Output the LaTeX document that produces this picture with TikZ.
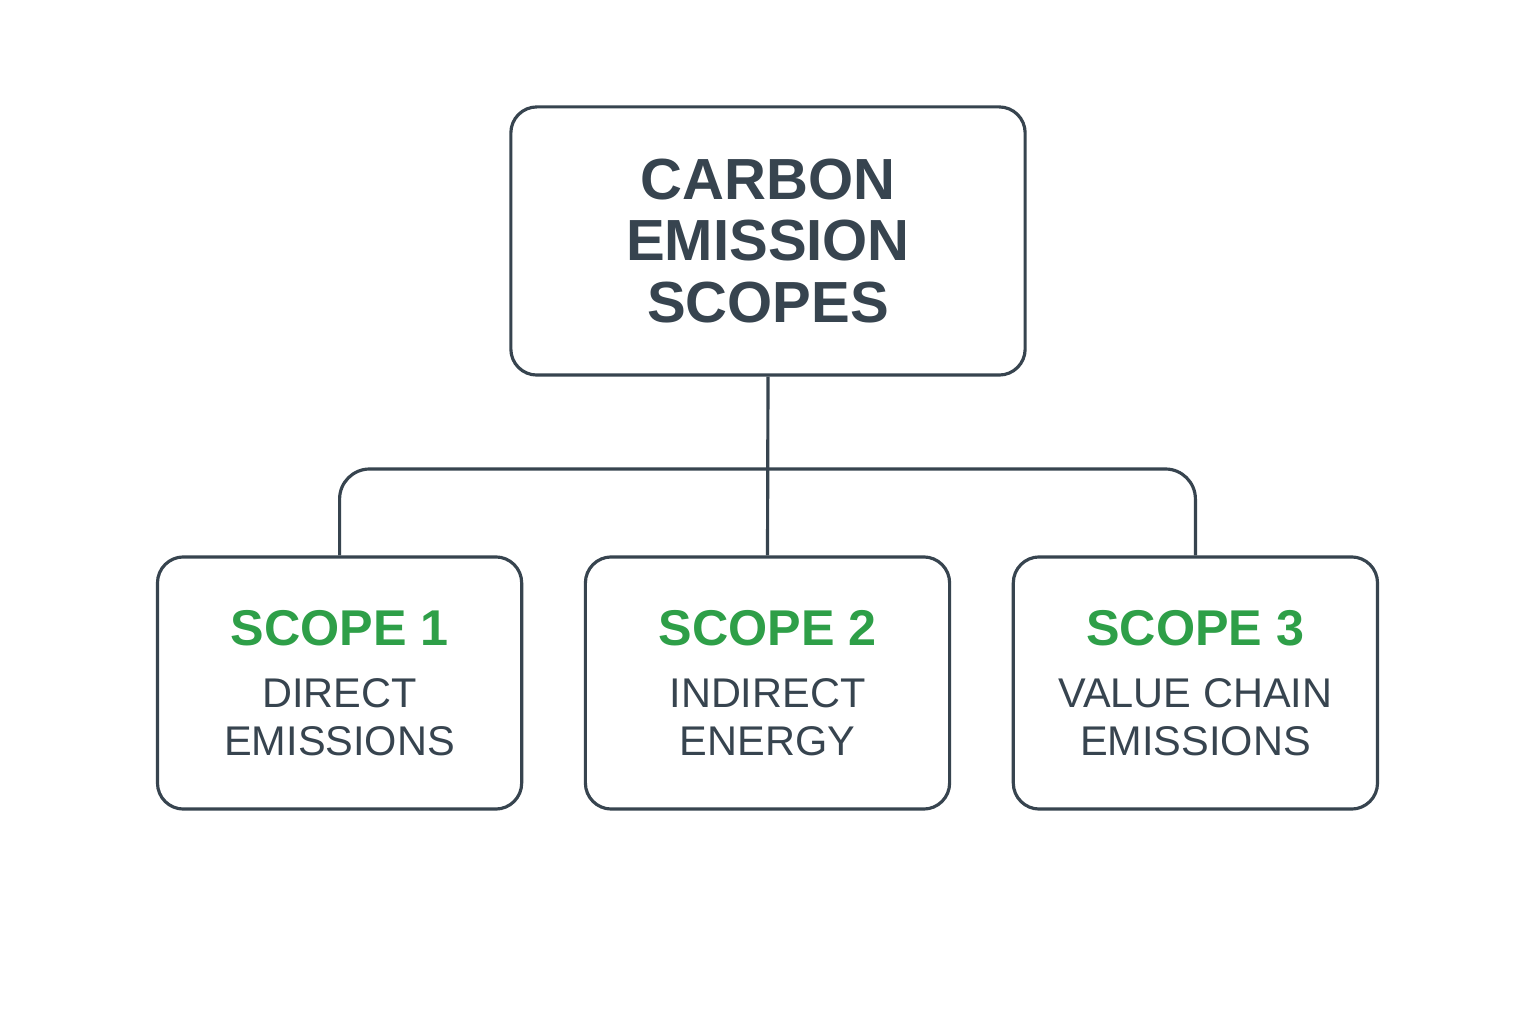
\documentclass[tikz,border=0pt]{standalone}
\usepackage{fontspec}
\setmainfont{Liberation Sans}
\usepackage{xcolor}
\usetikzlibrary{positioning}

\definecolor{slate}{HTML}{37444F}
\definecolor{scopegreen}{HTML}{2E9F48}

\tikzset{
  box/.style={draw=slate, line width=0.9pt, rounded corners=0.26cm,
    fill=white, text=slate, align=center, inner sep=0pt},
  topbox/.style={box, minimum width=5.14cm, minimum height=2.68cm,
    font=\bfseries\fontsize{16.5}{17.6}\selectfont},
  scopebox/.style={box, minimum width=3.64cm, minimum height=2.52cm,
    font=\fontsize{11.8}{13.7}\selectfont},
  link/.style={draw=slate, line width=0.9pt},
}
\newcommand{\scopetitle}[1]{\textcolor{scopegreen}{\bfseries\fontsize{14.3}{18}\selectfont #1}}

\begin{document}
\begin{tikzpicture}[%
      x=0.01cm, y=0.01cm,
      ]
      \useasboundingbox [fill=white] (0,0) rectangle (1536,1024);

      \node [topbox] (top) at (768,783) {CARBON\\EMISSION\\SCOPES};

      \node [scopebox] (s2) at (767.5,341) {\scopetitle{SCOPE 2}\\[4pt]INDIRECT\\ENERGY};
      \node [scopebox, left=0.605cm of s2] (s1) {\scopetitle{SCOPE 1}\\[4pt]DIRECT\\EMISSIONS};
      \node [scopebox, right=0.605cm of s2] (s3) {\scopetitle{SCOPE 3}\\[4pt]VALUE CHAIN\\EMISSIONS};

      % connectors
      \coordinate (bar) at (768,555);
      \draw [link] (top.south) -- (s2.north);
      \draw [link, rounded corners=0.3cm] (s1.north) |- (bar) -| (s3.north);
\end{tikzpicture}
\end{document}
